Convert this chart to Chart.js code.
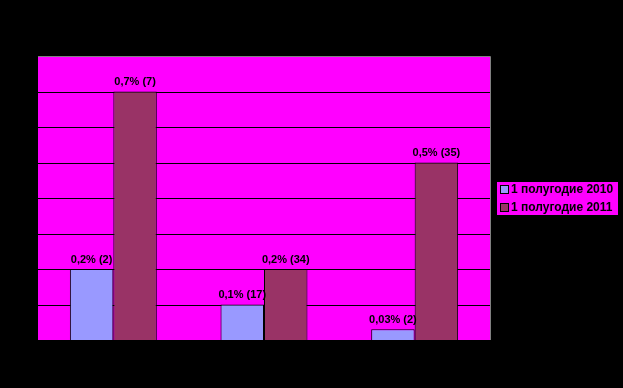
<!DOCTYPE html>
<html>
<head>
<meta charset="utf-8">
<script src="https://cdn.jsdelivr.net/npm/chart.js@4"></script>
<style>
html,body{margin:0;padding:0;background:#000;}
#wrap{position:relative;width:623px;height:388px;}
</style>
</head>
<body>
<div id="wrap"><canvas id="c" width="623" height="388"></canvas></div>
<script>
const categories = ["A", "B", "C"];
const seriesNames = ["1 полугодие 2010", "1 полугодие 2011"];
const values2010 = [0.2, 0.1, 0.03];
const values2011 = [0.7, 0.2, 0.5];
const labels2010 = ["0,2% (2)", "0,1% (17)", "0,03% (2)"];
const labels2011 = ["0,7% (7)", "0,2% (34)", "0,5% (35)"];
const yTicks = [0.1, 0.2, 0.3, 0.4, 0.5, 0.6, 0.7];
const colors = ["#9999FF", "#993366"];

const bgPlugin = {
  id: 'bg',
  beforeDraw(chart) {
    const {ctx, chartArea: a} = chart;
    ctx.save();
    ctx.fillStyle = '#000';
    ctx.fillRect(0, 0, chart.width, chart.height);
    ctx.fillStyle = '#FF00FF';
    ctx.fillRect(a.left, a.top, a.right - a.left, a.bottom - a.top);
    // crisp gridlines
    ctx.strokeStyle = '#000';
    ctx.lineWidth = 1;
    const ys = chart.scales.y;
    yTicks.forEach(v => {
      const py = Math.round(ys.getPixelForValue(v)) + 0.5;
      ctx.beginPath();
      ctx.moveTo(a.left, py);
      ctx.lineTo(a.right, py);
      ctx.stroke();
    });
    ctx.restore();
  },
  afterDatasetsDraw(chart) {
    const {ctx, chartArea: a} = chart;
    ctx.save();
    ctx.strokeStyle = '#808080';
    ctx.lineWidth = 1;
    ctx.beginPath();
    ctx.moveTo(a.left, a.top + 0.5);
    ctx.lineTo(a.right + 0.5, a.top + 0.5);
    ctx.lineTo(a.right + 0.5, a.bottom);
    ctx.stroke();
    const lbls = [labels2010, labels2011];
    ctx.font = 'bold 11px "Liberation Sans", Arial, sans-serif';
    ctx.fillStyle = '#000';
    ctx.textAlign = 'center';
    ctx.textBaseline = 'bottom';
    chart.data.datasets.forEach((ds, i) => {
      chart.getDatasetMeta(i).data.forEach((bar, j) => {
        ctx.fillText(lbls[i][j], bar.x, bar.y - 4);
      });
    });
    const lx = 497, ly = 182, lw = 121, lh = 33;
    ctx.fillStyle = '#FF00FF';
    ctx.fillRect(lx, ly, lw, lh);
    ctx.font = 'bold 12px "Liberation Sans", Arial, sans-serif';
    ctx.textAlign = 'left';
    ctx.textBaseline = 'middle';
    seriesNames.forEach((name, i) => {
      const y = 186 + i * 18;
      ctx.fillStyle = colors[i];
      ctx.fillRect(501, y, 7, 7);
      ctx.strokeStyle = '#000';
      ctx.strokeRect(500.5, y - 0.5, 8, 8);
      ctx.fillStyle = '#000';
      ctx.fillText(name, 511, y + 4);
    });
    ctx.restore();
  }
};

new Chart(document.getElementById('c'), {
  type: 'bar',
  data: {
    labels: categories,
    datasets: [
      {label: seriesNames[0], data: values2010, backgroundColor: colors[0], borderColor: '#000', borderWidth: 1, categoryPercentage: 0.577, barPercentage: 1},
      {label: seriesNames[1], data: values2011, backgroundColor: colors[1], borderColor: '#000', borderWidth: 1, categoryPercentage: 0.577, barPercentage: 1}
    ]
  },
  options: {
    responsive: false,
    animation: false,
    events: [],
    layout: {padding: {left: 38, top: 56, right: 133, bottom: 48}},
    plugins: {legend: {display: false}, tooltip: {enabled: false}},
    scales: {
      x: {
        display: true,
        ticks: {display: false},
        grid: {display: false, drawTicks: false},
        border: {display: false}
      },
      y: {
        min: 0, max: 0.8,
        ticks: {display: false, stepSize: 0.1},
        grid: {display: false, drawTicks: false},
        border: {display: false}
      }
    }
  },
  plugins: [bgPlugin]
});
</script>
</body>
</html>
